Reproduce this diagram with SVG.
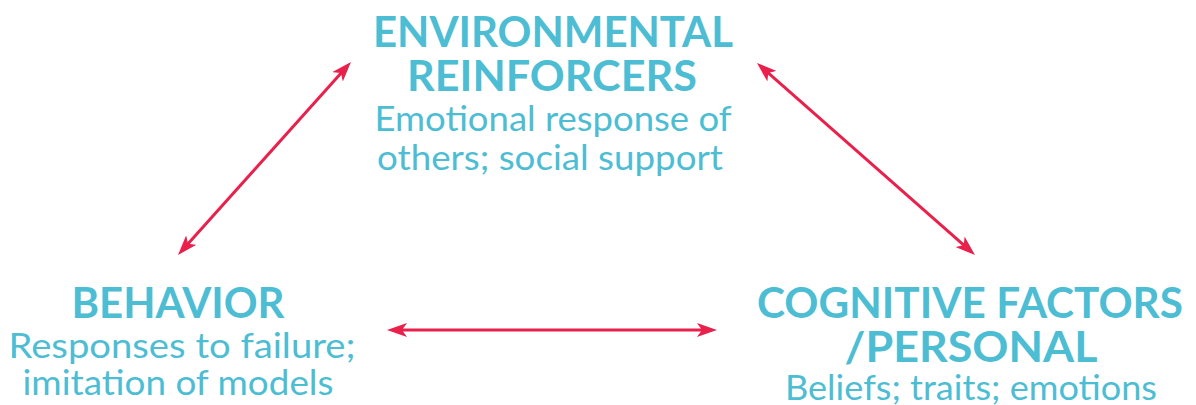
<svg xmlns="http://www.w3.org/2000/svg" width="1196" height="405" viewBox="0 0 1196 405">
<style>
.h{font-family:Lato,"Open Sans","Liberation Sans",sans-serif;font-weight:700;font-size:42px;fill:#4DBDD3;text-anchor:middle}
.s{font-family:Lato,"Open Sans","Liberation Sans",sans-serif;font-weight:400;font-size:34px;fill:#4DBDD3;text-anchor:middle}
.c{stroke:#E8204B;stroke-width:3;fill:none;marker-start:url(#ah);marker-end:url(#ah)}
</style>
<defs>
<marker id="ah" markerUnits="userSpaceOnUse" markerWidth="20" markerHeight="14" refX="10" refY="7" orient="auto-start-reverse" viewBox="0 0 20 14">
<path d="M0,0 L20,7 L0,14 L5,7 z" fill="#E8204B"/>
</marker>
</defs>
<rect width="1196" height="405" fill="#fff"/>
<g id="connectors">
<line class="c" x1="344.3" y1="69.4" x2="184.7" y2="247.5"/>
<line class="c" x1="764.5" y1="69.6" x2="967.5" y2="248.4"/>
<line class="c" x1="397" y1="330" x2="707" y2="330"/>
</g>
<g id="environmental">
<text class="h" x="553" y="47" textLength="360" lengthAdjust="spacingAndGlyphs">ENVIRONMENTAL</text>
<text class="h" x="552" y="91" textLength="290" lengthAdjust="spacingAndGlyphs">REINFORCERS</text>
<text class="s" x="553" y="131" textLength="357" lengthAdjust="spacingAndGlyphs">Emotional response of</text>
<text class="s" x="550" y="170" textLength="346" lengthAdjust="spacingAndGlyphs">others; social support</text>
</g>
<g id="behavior">
<text class="h" x="178" y="318" textLength="213" lengthAdjust="spacingAndGlyphs">BEHAVIOR</text>
<text class="s" x="182" y="358" textLength="347" lengthAdjust="spacingAndGlyphs">Responses to failure;</text>
<text class="s" x="178" y="395" textLength="311" lengthAdjust="spacingAndGlyphs">imitation of models</text>
</g>
<g id="cognitive">
<text class="h" x="970" y="318" textLength="426" lengthAdjust="spacingAndGlyphs">COGNITIVE FACTORS</text>
<text class="h" x="971" y="362" textLength="253" lengthAdjust="spacingAndGlyphs">/PERSONAL</text>
<text class="s" x="971" y="400" textLength="372" lengthAdjust="spacingAndGlyphs">Beliefs; traits; emotions</text>
</g>
</svg>
